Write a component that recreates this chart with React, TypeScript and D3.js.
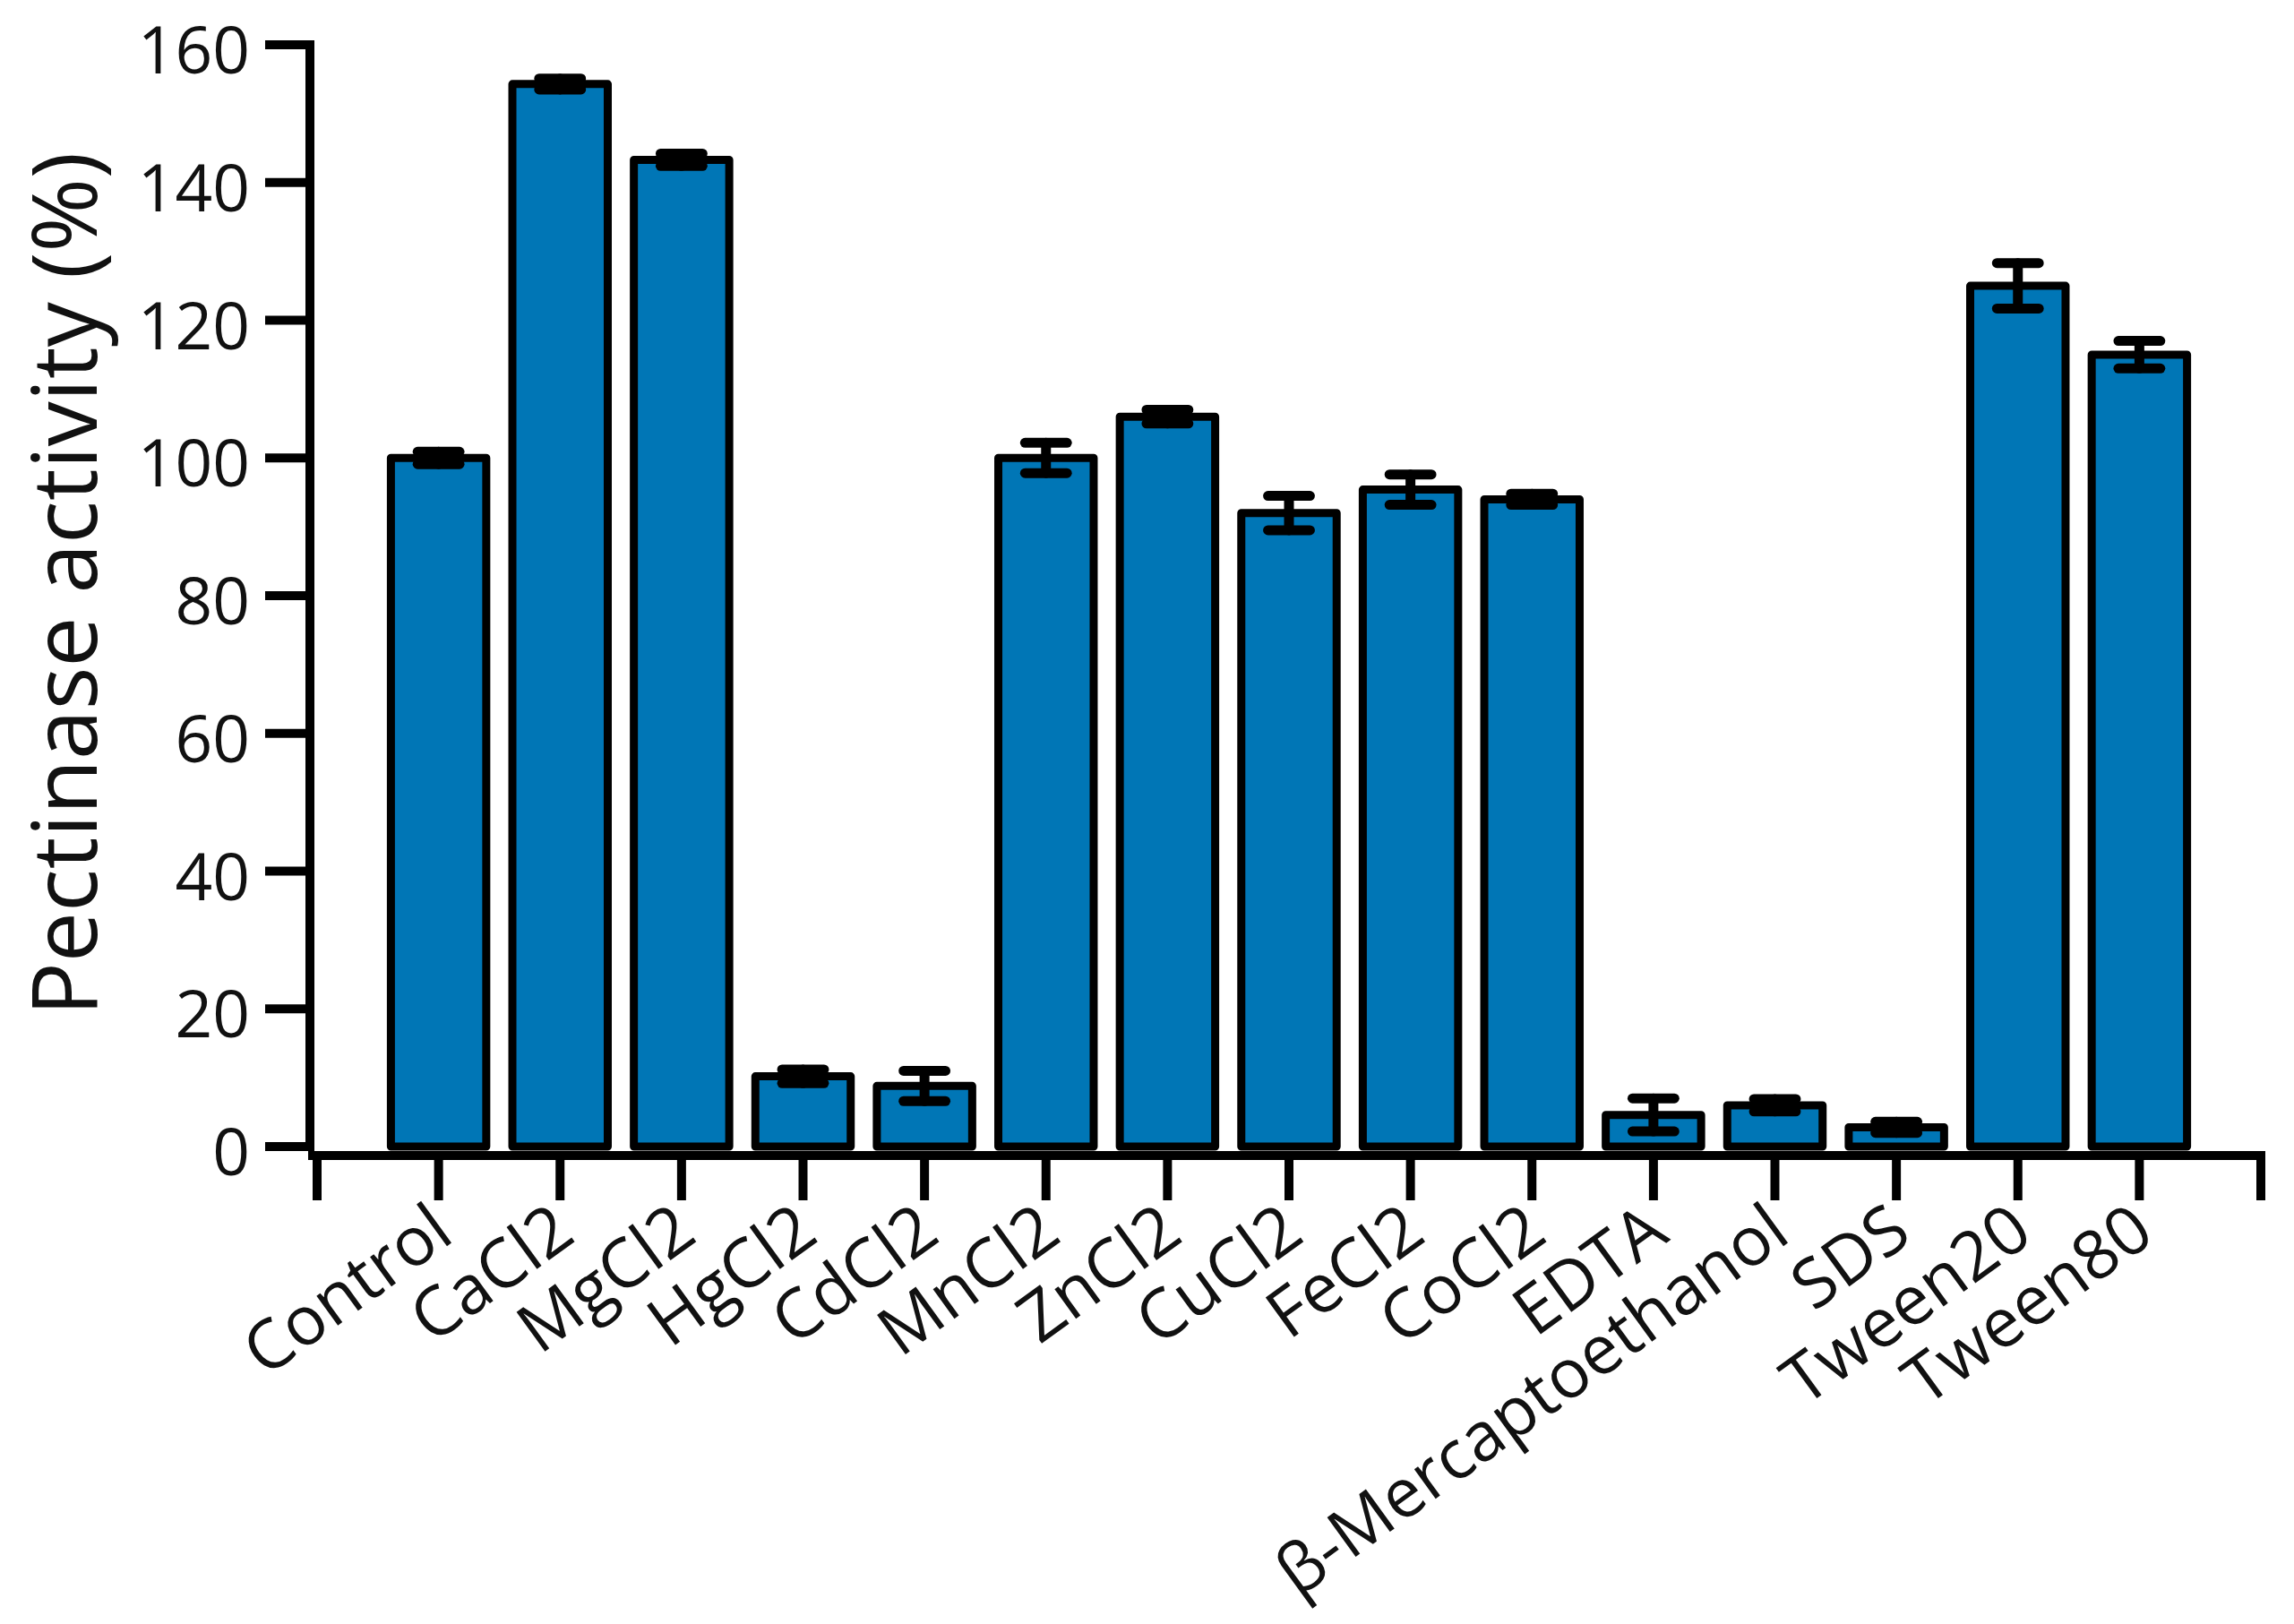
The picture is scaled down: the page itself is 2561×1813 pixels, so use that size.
import React from 'react';
import * as d3 from 'd3';

const categories = [
  'Control', 'CaCl2', 'MgCl2', 'HgCl2', 'CdCl2', 'MnCl2', 'ZnCl2', 'CuCl2',
  'FeCl2', 'CoCl2', 'EDTA', 'β-Mercaptoethanol', 'SDS', 'Tween20', 'Tween80',
];
const activity = [100, 154.3, 143.3, 10.2, 8.8, 100, 106, 92, 95.4, 94, 4.6, 6, 2.8, 125, 115];
const errors = [0.9, 0.8, 0.9, 1.0, 2.2, 2.2, 1.0, 2.5, 2.2, 0.8, 2.4, 0.9, 0.8, 3.3, 2];
const yTicks = [0, 20, 40, 60, 80, 100, 120, 140, 160];
const yTitle = 'Pectinase activity (%)';

const W = 2561;
const H = 1813;
const FONT = '"Open Sans", "Noto Sans", sans-serif';
const BAR_FILL = '#0076b6';

const App = () => {
  const x = d3.scalePoint<string>().domain(categories).range([354, 2524]).padding(1);
  const y = d3.scaleLinear().domain([0, 160]).range([1280, 50]);

  const step = x.step();
  const barW = step * 0.785;
  const capW = barW * 0.44;
  const yAxisX = 346;
  const xAxisY = 1290;
  const [xStart, xEnd] = x.range();

  // ticks at every bar plus both ends of the axis
  const xTickPos = [xStart, ...categories.map((c) => x(c) as number), xEnd];

  return (
    <svg
      width={W}
      height={H}
      style={{ position: 'absolute', left: 0, top: 0, background: '#fff' }}
      fontFamily={FONT}
    >
      {/* bars */}
      {categories.map((c, i) => (
        <rect
          key={c}
          x={(x(c) as number) - barW / 2}
          y={y(activity[i])}
          width={barW}
          height={y(0) - y(activity[i])}
          fill={BAR_FILL}
          stroke="#000"
          strokeWidth={9}
          strokeLinejoin="round"
        />
      ))}

      {/* error bars */}
      {categories.map((c, i) => {
        const cx = x(c) as number;
        const hi = y(activity[i] + errors[i]);
        const lo = y(activity[i] - errors[i]);
        return (
          <g key={c} stroke="#000" strokeWidth={11} strokeLinecap="round">
            <line x1={cx} x2={cx} y1={hi} y2={lo} />
            <line x1={cx - capW / 2} x2={cx + capW / 2} y1={hi} y2={hi} />
            <line x1={cx - capW / 2} x2={cx + capW / 2} y1={lo} y2={lo} />
          </g>
        );
      })}

      {/* y axis */}
      <g stroke="#000" strokeWidth={10} strokeLinecap="square">
        <line x1={yAxisX} x2={yAxisX} y1={y(0)} y2={y(160)} />
        {yTicks.map((t) => (
          <line key={t} x1={yAxisX - 45} x2={yAxisX} y1={y(t)} y2={y(t)} />
        ))}
      </g>
      {yTicks.map((t) => (
        <text
          key={t}
          x={279}
          y={y(t)}
          dy="0.44em"
          textAnchor="end"
          fontSize={73}
          fill="#111"
        >
          {t}
        </text>
      ))}
      <text
        transform={`translate(108, 652) rotate(-90)`}
        textAnchor="middle"
        fontSize={100}
        fill="#111"
      >
        {yTitle}
      </text>

      {/* x axis */}
      <g stroke="#000" strokeWidth={10} strokeLinecap="square">
        <line x1={xStart - 5} x2={xEnd} y1={xAxisY} y2={xAxisY} />
        {xTickPos.map((p, i) => (
          <line key={i} x1={p} x2={p} y1={xAxisY} y2={xAxisY + 45} />
        ))}
      </g>
      {categories.map((c) => (
        <text
          key={c}
          transform={`translate(${(x(c) as number) - 12}, ${xAxisY + 50}) rotate(-36)`}
          dy="0.71em"
          textAnchor="end"
          fontSize={76}
          fill="#111"
        >
          {c}
        </text>
      ))}
    </svg>
  );
};

export default App;
